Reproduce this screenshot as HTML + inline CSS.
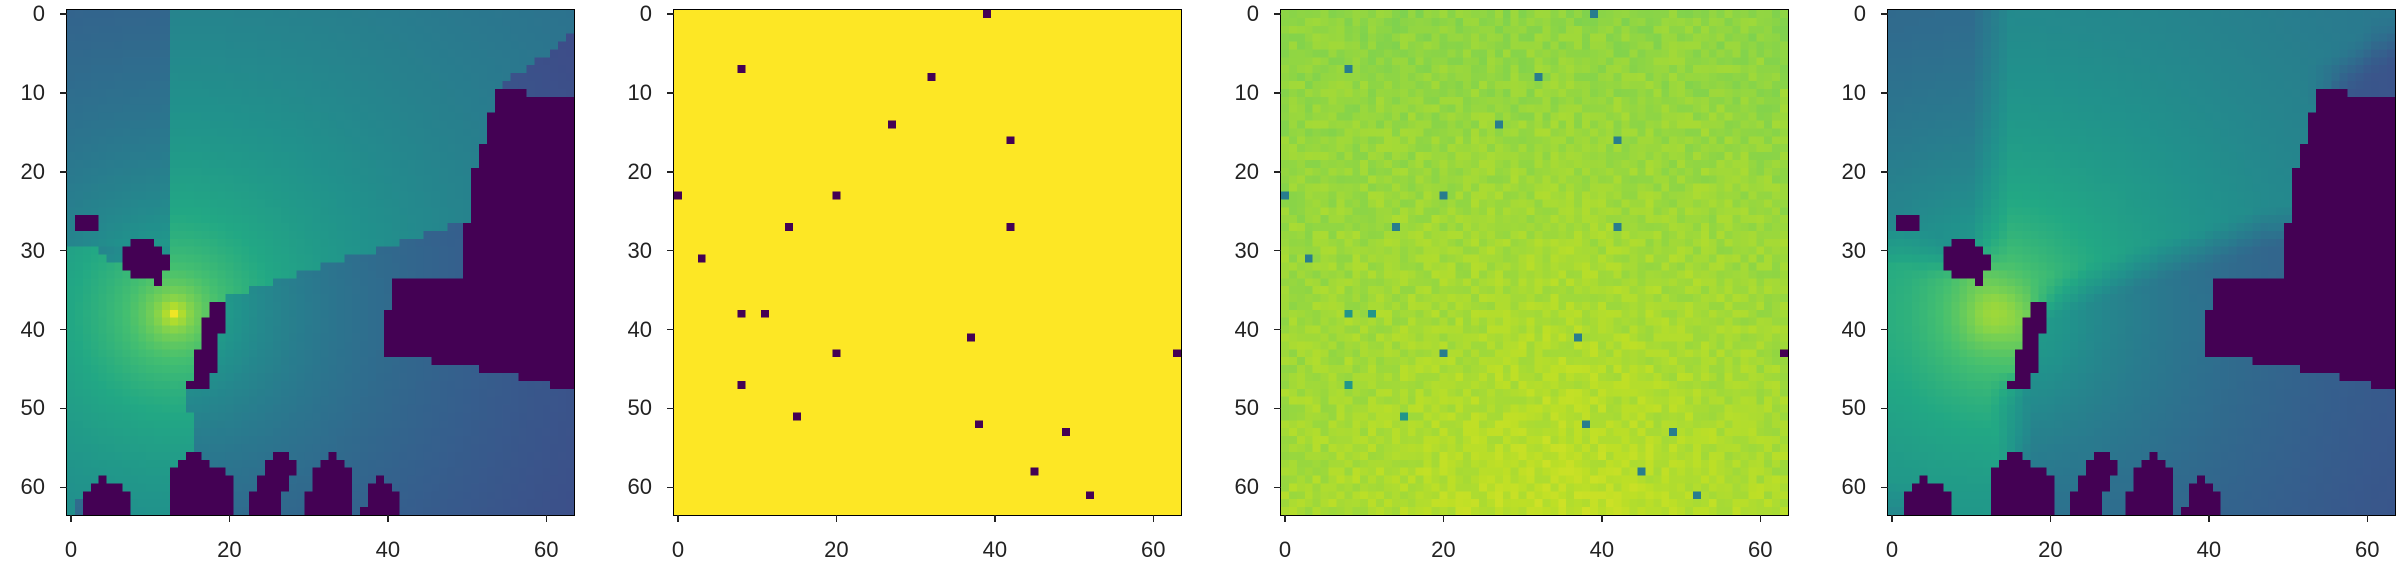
<!DOCTYPE html>
<html><head><meta charset="utf-8">
<style>
html,body{margin:0;padding:0;background:#fff;width:2404px;height:574px;overflow:hidden;font-family:"Liberation Sans","DejaVu Sans",sans-serif;}
#root{position:relative;width:2404px;height:574px;}
canvas{position:absolute;image-rendering:pixelated;}
.frame{position:absolute;border:1.5px solid #000;box-sizing:border-box;}
.tk{position:absolute;background:#222;}
.lb{position:absolute;font-size:22px;color:#222;line-height:22px;}
</style></head>
<body><div id="root"></div>
<script>
// ---- data ----
const N = 64;
const txPos = [13, 38];
const xTicks = [0, 20, 40, 60];
const yTicks = [0, 10, 20, 30, 40, 50, 60];
// building polygons in cell coords [col,row]
const buildings = [
  [[0.5,25.5],[3.5,25.5],[3.8,27.8],[0.5,27.8]],
  [[7.5,28.5],[10.5,29],[12.5,31.5],[11.5,34.5],[8,33],[6.5,31.5]],
  [[17.5,36.5],[20,36.5],[17.5,47.6],[14.8,47.6]],
  [[54,9.5],[63.6,11],[63.6,47.8],[52,45],[40,43],[39.5,42],[40.5,33],[49,33.5],[51,20]],
  [[4.2,58.5],[7.5,61],[7.6,63.6],[1,63.6],[2,61]],
  [[15.5,55.5],[20.5,59],[20.5,63.6],[12,63.6],[13,58]],
  [[26.5,54.5],[28.5,57],[26,63.6],[22,63.6],[24.5,57]],
  [[32.5,55.5],[36,58],[36,63.6],[29.5,63.6],[30.5,58]],
  [[38.5,58.5],[42,61],[42,63.6],[36.5,63.6]]
];
const samplePts = [[39,0],[8,7],[32,8],[27,14],[42,16],[0,23],[20,23],[14,27],[42,27],[3,31],[8,38],[11,38],[37,41],[20,43],[63,43],[8,47],[15,51],[38,52],[49,53],[45,58],[52,61]];
// ---- layout ----
const lefts = [67, 674, 1281, 1888];
const top0 = 10, W = 507, H = 505;

const VIR = [[68,1,84],[72,36,117],[65,68,135],[53,95,141],[42,120,142],[33,145,140],[34,168,132],[68,191,112],[122,209,81],[189,223,38],[253,231,37]];
function viridis(v){v=Math.max(0,Math.min(1,v));const t=v*10,i=Math.min(9,Math.floor(t)),f=t-i;const a=VIR[i],b=VIR[i+1];return [a[0]+(b[0]-a[0])*f,a[1]+(b[1]-a[1])*f,a[2]+(b[2]-a[2])*f];}
function inPoly(x,y,p){let c=false;for(let i=0,j=p.length-1;i<p.length;j=i++){const [xi,yi]=p[i],[xj,yj]=p[j];if(((yi>y)!=(yj>y))&&(x<(xj-xi)*(y-yi)/(yj-yi)+xi))c=!c;}return c;}
const mask=[];for(let r=0;r<N;r++){mask.push([]);for(let c=0;c<N;c++){mask[r].push(buildings.some(p=>inPoly(c,r,p)));}}
function hash(a,b){let h=(a*374761393+b*668265263)^0x5bd1e995;h=(h^(h>>>13))*1274126177;h=h^(h>>>16);return (h>>>0)/4294967295;}
// field
const field=[];
for(let r=0;r<N;r++){field.push([]);for(let c=0;c<N;c++){
  const dx=c-txPos[0],dy=r-txPos[1],d=Math.hypot(dx,dy);
  let v=0.98-0.145*Math.log(1+d);
  let sh=0;const steps=Math.ceil(d*2);
  for(let s=1;s<steps;s++){const x=Math.round(txPos[0]+dx*s/steps),y=Math.round(txPos[1]+dy*s/steps);if(mask[y]&&mask[y][x]&&!(x===c&&y===r)){sh=1;break;}}
  if(c<13&&r<30){v-=0.12;}
  else if(sh)v-=0.15;
  field[r].push(v);
}}
function blur(f){const o=[];for(let r=0;r<N;r++){o.push([]);for(let c=0;c<N;c++){let s=0,n=0;for(let a=-2;a<=2;a++)for(let b=-2;b<=2;b++){const y=r+a,x=c+b;if(y>=0&&y<N&&x>=0&&x<N&&!mask[y][x]){s+=f[y][x];n++;}}o[r].push(n?s/n:f[r][c]);}}return o;}
const field4=blur(field);
const ptSet=new Set(samplePts.map(p=>p[1]*N+p[0]));
function val(panel,r,c){
  if(panel===0) return mask[r][c]?0:field[r][c];
  if(panel===3) return mask[r][c]?0:field4[r][c]+0.02;
  if(panel===1) return ptSet.has(r*N+c)?0:1;
  if(c===63&&r===43) return 0;
  if(ptSet.has(r*N+c)) return (r===38||r===51||r===47)?0.52:0.42;
  return 0.83+0.08*(r/N)*(1-Math.abs(c-35)/64)+0.05*(hash(r,c)-0.5);
}
const root=document.getElementById('root');
const names=['ground-truth-map','sample-mask','sparse-input-map','predicted-map'];
for(let p=0;p<4;p++){
  const L=lefts[p];
  const cv=document.createElement('canvas');
  
  
  cv.width=N;cv.height=N;cv.style.left=L+'px';cv.style.top=top0+'px';cv.style.width=W+'px';cv.style.height=H+'px';
  const ctx=cv.getContext('2d');const img=ctx.createImageData(N,N);
  for(let r=0;r<N;r++)for(let c=0;c<N;c++){const col=viridis(val(p,r,c));const k=(r*N+c)*4;img.data[k]=col[0];img.data[k+1]=col[1];img.data[k+2]=col[2];img.data[k+3]=255;}
  ctx.putImageData(img,0,0);root.appendChild(cv);
  const fr=document.createElement('div');fr.className='frame';
  
  
  fr.style.left=(L-1)+'px';fr.style.top=(top0-1)+'px';fr.style.width=(W+2)+'px';fr.style.height=(H+2)+'px';root.appendChild(fr);
  const sx=v=>L+(v+0.5)*W/N, sy=v=>top0+(v+0.5)*H/N;
  xTicks.forEach(t=>{
    const tk=document.createElement('div');tk.className='tk';
    
    
    tk.style.left=(sx(t)-0.75)+'px';tk.style.top=(top0+H)+'px';tk.style.width='1.5px';tk.style.height='7px';root.appendChild(tk);
    const lb=document.createElement('div');lb.className='lb';
    
    
    lb.textContent=t;lb.style.left=(sx(t)-30)+'px';lb.style.width='60px';lb.style.textAlign='center';lb.style.top='539px';root.appendChild(lb);
  });
  yTicks.forEach(t=>{
    const tk=document.createElement('div');tk.className='tk';
    
    
    tk.style.left=(L-7)+'px';tk.style.top=(sy(t)-0.75)+'px';tk.style.width='7px';tk.style.height='1.5px';root.appendChild(tk);
    const lb=document.createElement('div');lb.className='lb';
    
    
    lb.textContent=t;lb.style.left=(L-80)+'px';lb.style.width='58px';lb.style.textAlign='right';lb.style.top=(sy(t)-11)+'px';root.appendChild(lb);
  });
}
</script>
</body></html>
